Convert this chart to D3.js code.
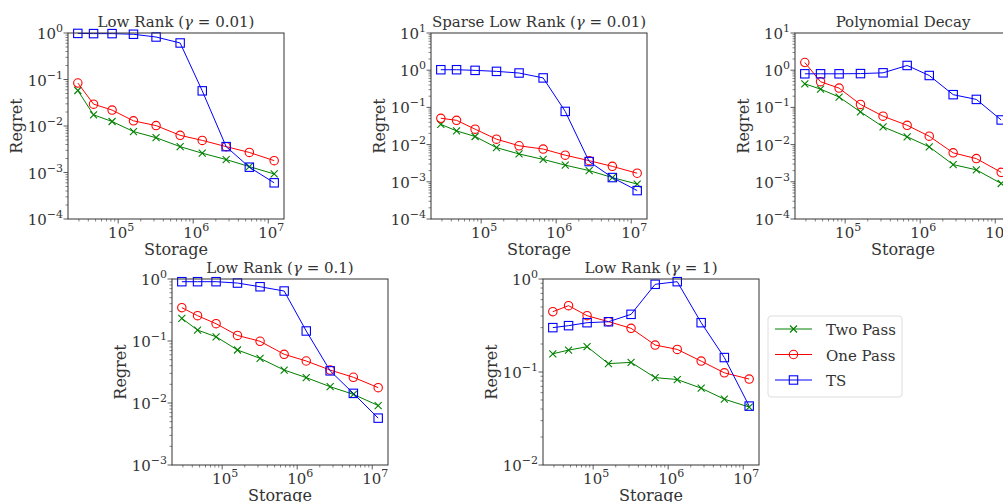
<!DOCTYPE html>
<html><head><meta charset="utf-8">
<script src="https://cdn.jsdelivr.net/npm/d3@7"></script>
<style>
body{margin:0;background:#fff;}
</style></head>
<body><svg id="c" width="1003" height="502" font-family="'DejaVu Serif', 'Liberation Serif', serif"></svg>
<script>
// ---- data ----
const storage = [2.9e4, 4.7e4, 8.3e4, 1.6e5, 3.2e5, 6.7e5, 1.32e6, 2.75e6, 5.6e6, 1.2e7];

const lr001_two = [0.058, 0.0174, 0.0125, 0.0076, 0.0056, 0.0036, 0.0026, 0.0019, 0.00134, 0.00093];
const lr001_one = [0.084, 0.0295, 0.022, 0.0129, 0.0102, 0.0063, 0.0049, 0.0036, 0.0027, 0.0018];
const lr001_ts  = [0.98, 0.97, 0.97, 0.94, 0.82, 0.61, 0.057, 0.0036, 0.0013, 0.0006];

const slr001_two = [0.035, 0.0234, 0.0165, 0.0083, 0.0056, 0.0040, 0.0028, 0.0020, 0.0013, 0.00087];
const slr001_one = [0.051, 0.045, 0.026, 0.014, 0.0093, 0.0076, 0.0052, 0.0037, 0.0026, 0.0017];
const slr001_ts  = [1.03, 1.03, 0.99, 0.93, 0.84, 0.62, 0.078, 0.0035, 0.0013, 0.00058];

const poly_two = [0.43, 0.31, 0.19, 0.076, 0.030, 0.0162, 0.0087, 0.0029, 0.0021, 0.0009];
const poly_one = [1.61, 0.49, 0.33, 0.12, 0.058, 0.033, 0.0168, 0.006, 0.0042, 0.0018];
const poly_ts  = [0.80, 0.80, 0.80, 0.81, 0.85, 1.34, 0.72, 0.22, 0.164, 0.046];

const lr01_two = [0.232, 0.150, 0.117, 0.0716, 0.0525, 0.034, 0.0257, 0.0183, 0.0138, 0.0091];
const lr01_one = [0.345, 0.256, 0.19, 0.123, 0.099, 0.061, 0.0476, 0.034, 0.026, 0.0177];
const lr01_ts  = [0.905, 0.905, 0.905, 0.86, 0.75, 0.64, 0.145, 0.033, 0.0143, 0.0057];

const lr1_two = [0.157, 0.172, 0.187, 0.123, 0.127, 0.087, 0.083, 0.067, 0.051, 0.042];
const lr1_one = [0.445, 0.517, 0.403, 0.348, 0.295, 0.195, 0.175, 0.131, 0.098, 0.084];
const lr1_ts  = [0.30, 0.315, 0.339, 0.347, 0.417, 0.877, 0.936, 0.339, 0.143, 0.043];

const seriesNames = ["Two Pass", "One Pass", "TS"];
const seriesColors = ["#008000", "#ff0000", "#0000ff"];
const seriesMarkers = ["x", "o", "s"];

const titles = [["Low Rank (", "γ", " = 0.01)"], ["Sparse Low Rank (", "γ", " = 0.01)"], ["Polynomial Decay"], ["Low Rank (", "γ", " = 0.1)"], ["Low Rank (", "γ", " = 1)"]];
const yExpRanges = [[-4, 0], [-4, 1], [-4, 1], [-3, 0], [-2, 0]];
const xTickExps = [5, 6, 7];
const panelData = [
  [lr001_two, lr001_one, lr001_ts],
  [slr001_two, slr001_one, slr001_ts],
  [poly_two, poly_one, poly_ts],
  [lr01_two, lr01_one, lr01_ts],
  [lr1_two, lr1_one, lr1_ts]
];
// ---- layout ----
const boxes = [
  {x: 68, y: 33}, {x: 431, y: 33}, {x: 795, y: 33}, {x: 172, y: 279}, {x: 543, y: 279}
];
const W = 216, H = 186;
const TXT = "#333";

const svg = d3.select("#c");
const lx0 = Math.log10(d3.min(storage)), lx1 = Math.log10(d3.max(storage));
const m = (lx1 - lx0) * 0.05;
const xDomain = [Math.pow(10, lx0 - m), Math.pow(10, lx1 + m)];

function supLabel(sel, exp) {
  sel.append("tspan").text("10");
  sel.append("tspan").attr("dy", -7).attr("font-size", "11px").text(String(exp).replace("-", "\u2212"));
}

panelData.forEach((series, i) => {
  const b = boxes[i];
  const g = svg.append("g").attr("transform", `translate(${b.x},${b.y})`);
  const x = d3.scaleLog().domain(xDomain).range([0, W]);
  const ye = yExpRanges[i];
  const y = d3.scaleLog().domain([Math.pow(10, ye[0]), Math.pow(10, ye[1])]).range([H, 0]);

  const clipId = "clip" + i;
  g.append("clipPath").attr("id", clipId).append("rect").attr("x", -6).attr("y", -6).attr("width", W + 12).attr("height", H + 12);

  // minor ticks
  const xMinor = [];
  for (let e = 4; e <= 7; e++) for (let k = 2; k <= 9; k++) { const v = k * Math.pow(10, e); if (v >= xDomain[0] && v <= xDomain[1]) xMinor.push(v); }
  g.selectAll(".xminor").data(xMinor).enter().append("line")
    .attr("x1", d => x(d)).attr("x2", d => x(d)).attr("y1", H).attr("y2", H + 2.5)
    .attr("stroke", "#333").attr("stroke-width", 0.6);
  const yMinor = [];
  for (let e = ye[0]; e < ye[1]; e++) for (let k = 2; k <= 9; k++) yMinor.push(k * Math.pow(10, e));
  g.selectAll(".yminor").data(yMinor).enter().append("line")
    .attr("x1", -2.5).attr("x2", 0).attr("y1", d => y(d)).attr("y2", d => y(d))
    .attr("stroke", "#333").attr("stroke-width", 0.6);

  // major ticks
  const xMaj = xTickExps.map(e => Math.pow(10, e));
  g.selectAll(".xmaj").data(xMaj).enter().append("line")
    .attr("x1", d => x(d)).attr("x2", d => x(d)).attr("y1", H).attr("y2", H + 4.5)
    .attr("stroke", "#333").attr("stroke-width", 0.8);
  xTickExps.forEach(e => {
    const t = g.append("text").attr("x", x(Math.pow(10, e)) + 3).attr("y", H + 19)
      .attr("text-anchor", "middle").attr("font-size", "15px").attr("fill", TXT);
    supLabel(t, e);
  });
  const yExps = d3.range(ye[0], ye[1] + 1);
  g.selectAll(".ymaj").data(yExps).enter().append("line")
    .attr("x1", -4.5).attr("x2", 0).attr("y1", d => y(Math.pow(10, d))).attr("y2", d => y(Math.pow(10, d)))
    .attr("stroke", "#333").attr("stroke-width", 0.8);
  yExps.forEach(e => {
    const t = g.append("text").attr("x", -5).attr("y", y(Math.pow(10, e)) + 6)
      .attr("text-anchor", "end").attr("font-size", "15px").attr("fill", TXT);
    supLabel(t, e);
  });

  // series
  const plot = g.append("g").attr("clip-path", `url(#${clipId})`);
  series.forEach((vals, s) => {
    const pts = vals.map((v, j) => [storage[j], v]);
    const line = d3.line().x(d => x(d[0])).y(d => y(d[1]));
    plot.append("path").attr("d", line(pts)).attr("fill", "none")
      .attr("stroke", seriesColors[s]).attr("stroke-width", 1);
    drawMarkers(plot, pts.map(d => [x(d[0]), y(d[1])]), s);
  });

  // frame
  g.append("rect").attr("x", 0).attr("y", 0).attr("width", W).attr("height", H)
    .attr("fill", "none").attr("stroke", "#333").attr("stroke-width", 1);

  // title
  const tt = g.append("text").attr("x", W / 2).attr("y", -6).attr("text-anchor", "middle").attr("font-size", "15px").attr("fill", TXT);
  titles[i].forEach((part, k) => {
    const sp = tt.append("tspan").text(part);
    if (part === "γ") sp.attr("font-style", "italic");
  });
  // axis labels
  g.append("text").attr("x", W / 2).attr("y", H + 36).attr("text-anchor", "middle").attr("font-size", "16px").attr("fill", TXT).text("Storage");
  g.append("text").attr("transform", `translate(-46,${H / 2}) rotate(-90)`).attr("text-anchor", "middle").attr("font-size", "16px").attr("fill", TXT).text("Regret");
});

function drawMarkers(sel, pts, s) {
  const c = seriesColors[s];
  const mk = seriesMarkers[s];
  pts.forEach(p => {
    if (mk === "x") {
      sel.append("path").attr("d", `M${p[0]-3.5},${p[1]-3.5}L${p[0]+3.5},${p[1]+3.5}M${p[0]-3.5},${p[1]+3.5}L${p[0]+3.5},${p[1]-3.5}`)
        .attr("stroke", c).attr("stroke-width", 1.1).attr("fill", "none");
    } else if (mk === "o") {
      sel.append("circle").attr("cx", p[0]).attr("cy", p[1]).attr("r", 4.2)
        .attr("stroke", c).attr("stroke-width", 1.1).attr("fill", "none");
    } else {
      sel.append("rect").attr("x", p[0] - 4.2).attr("y", p[1] - 4.2).attr("width", 8.4).attr("height", 8.4)
        .attr("stroke", c).attr("stroke-width", 1.1).attr("fill", "none");
    }
  });
}

// legend
const lg = svg.append("g").attr("transform", "translate(768,316)");
lg.append("rect").attr("x", 0).attr("y", 0).attr("width", 134).attr("height", 81).attr("rx", 3)
  .attr("fill", "#fff").attr("stroke", "#ddd").attr("stroke-width", 1);
seriesNames.forEach((n, s) => {
  const yy = 13 + s * 25.5;
  lg.append("line").attr("x1", 7).attr("x2", 44).attr("y1", yy).attr("y2", yy).attr("stroke", seriesColors[s]).attr("stroke-width", 1);
  drawMarkers(lg, [[25.5, yy]], s);
  lg.append("text").attr("x", 58).attr("y", yy + 6).attr("font-size", "15px").attr("fill", TXT).text(n);
});
</script></body></html>
